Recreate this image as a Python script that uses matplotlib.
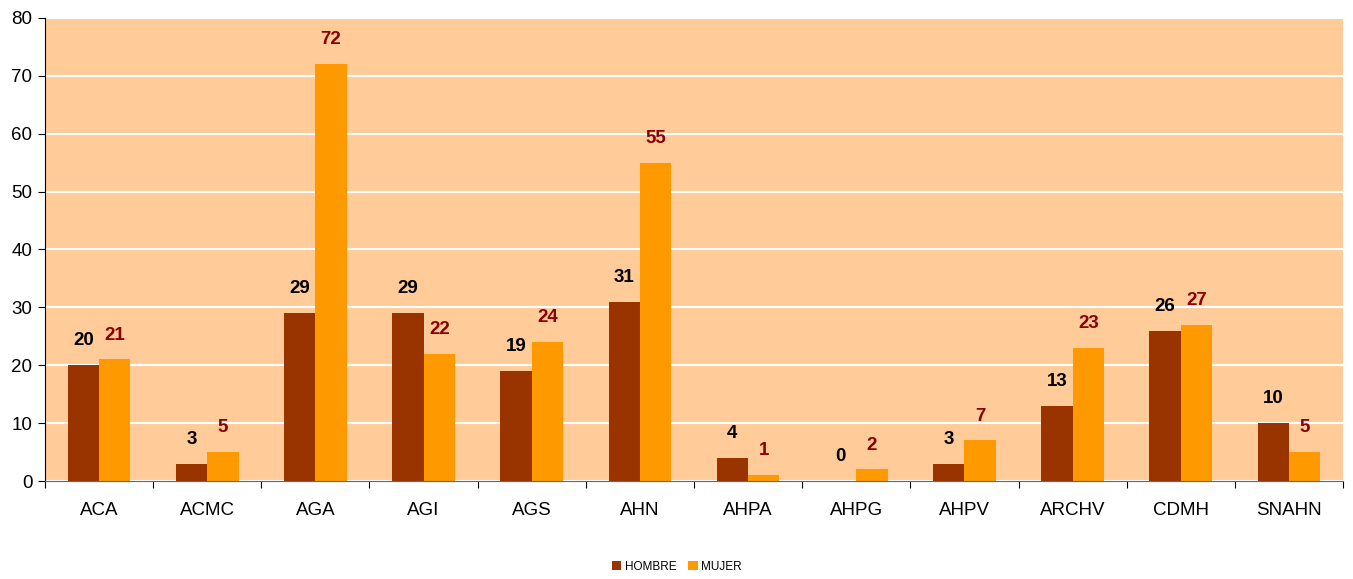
import matplotlib
matplotlib.use("Agg")
import matplotlib.pyplot as plt
import numpy as np

categories = ["ACA", "ACMC", "AGA", "AGI", "AGS", "AHN", "AHPA", "AHPG", "AHPV", "ARCHV", "CDMH", "SNAHN"]
hombre = [20, 3, 29, 29, 19, 31, 4, 0, 3, 13, 26, 10]
mujer = [21, 5, 72, 22, 24, 55, 1, 2, 7, 23, 27, 5]
yticks = [0, 10, 20, 30, 40, 50, 60, 70, 80]

plt.rcParams['font.family'] = ['Liberation Sans', 'DejaVu Sans']

fig = plt.figure(figsize=(13.53, 5.79), dpi=100)
ax = fig.add_axes([45/1353, 98/579, (1343-45)/1353, (481-18)/579])
ax.set_facecolor('#FFCC99')

x = np.arange(len(categories))
w = 0.29
b1 = ax.bar(x - w/2, hombre, w, color='#993300', label='HOMBRE', zorder=3)
b2 = ax.bar(x + w/2, mujer, w, color='#FF9900', label='MUJER', zorder=3)

for xi, v in zip(x, hombre):
    ax.annotate(str(v), (xi - w/2, v), xytext=(0, 17.5), textcoords='offset points',
                ha='center', va='center', fontsize=13.5, fontweight='bold', color='black')
for xi, v in zip(x, mujer):
    ax.annotate(str(v), (xi + w/2, v), xytext=(0, 17.5), textcoords='offset points',
                ha='center', va='center', fontsize=13.5, fontweight='bold', color='#8B0000')

ax.set_xlim(-0.5, len(categories) - 0.5)
ax.set_ylim(0, 80)
ax.set_yticks(yticks)
ax.set_yticklabels([str(t) for t in yticks], fontsize=13.5)
ax.yaxis.grid(True, color='white', linewidth=1.5, zorder=0)
ax.set_axisbelow(True)

ax.set_xticks(np.arange(len(categories) + 1) - 0.5, minor=False)
ax.set_xticklabels([])
ax.set_xticks(x, minor=True)
ax.set_xticklabels(categories, minor=True, fontsize=13.5)
ax.tick_params(axis='x', which='minor', length=0, pad=15)
ax.tick_params(axis='x', which='major', length=5, direction='out')
ax.tick_params(axis='y', length=5, direction='out', pad=4)

for s in ['top', 'right']:
    ax.spines[s].set_visible(False)
ax.spines['left'].set_color('black')
ax.spines['bottom'].set_color('#666666')
ax.spines['bottom'].set_zorder(4)

fig.legend(handles=[b1, b2], labels=['HOMBRE', 'MUJER'], loc='center',
           bbox_to_anchor=(677/1353, 1 - 567/579), ncol=2, frameon=False,
           fontsize=8.5, handlelength=0.8, handleheight=0.8, handletextpad=0.3,
           columnspacing=1.0)

fig.savefig('out.png', dpi=100)
